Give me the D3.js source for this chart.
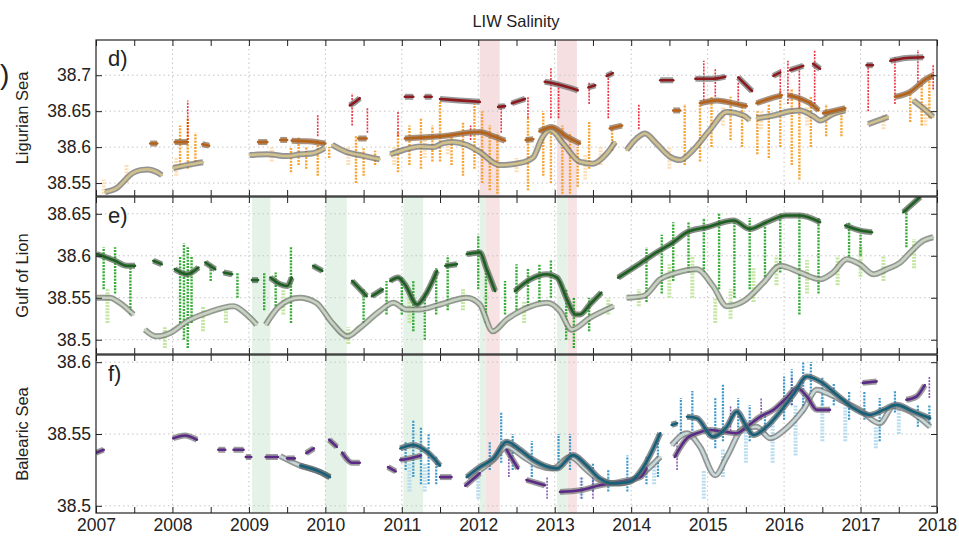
<!DOCTYPE html>
<html>
<head>
<meta charset="utf-8">
<script src="https://cdn.jsdelivr.net/npm/d3@7"></script>
<style>
  body { margin: 0; background: #fff; }
  svg { font-family: "Liberation Sans", Arial, sans-serif; }
</style>
</head>
<body>
<svg id="chart" width="959" height="539"></svg>
<script>
// ---- axis values ----
const yearTicks = [2007, 2008, 2009, 2010, 2011, 2012, 2013, 2014, 2015, 2016, 2017, 2018];
const halfYearTicks = [2007.5, 2008.5, 2009.5, 2010.5, 2011.5, 2012.5, 2013.5, 2014.5, 2015.5, 2016.5, 2017.5];
const ticksLig = [38.55, 38.6, 38.65, 38.7];
const ticksGol = [38.5, 38.55, 38.6, 38.65];
const ticksBal = [38.5, 38.55, 38.6];

// ---- shaded periods [start, end] ----
const pinkLig = [[2012.02, 2012.28], [2013.03, 2013.29]];
const greenBands = [[2009.04, 2009.28], [2010.0, 2010.28], [2011.02, 2011.28], [2012.02, 2012.1], [2013.03, 2013.17]];
const pinkBands = [[2012.1, 2012.28], [2013.17, 2013.29]];

// ---- Ligurian Sea (d) ----
// scatter clusters: [year, low, high]
const ligOrange = [
  [2008.1, 38.57, 38.63], [2008.2, 38.57, 38.64], [2008.3, 38.575, 38.62],
  [2009.55, 38.565, 38.6], [2009.65, 38.575, 38.615], [2009.75, 38.57, 38.6], [2009.9, 38.56, 38.61],
  [2010.05, 38.585, 38.6], [2010.4, 38.55, 38.615], [2010.5, 38.56, 38.6], [2010.65, 38.575, 38.595],
  [2010.95, 38.565, 38.62], [2011.1, 38.575, 38.63], [2011.25, 38.57, 38.64], [2011.4, 38.58, 38.63],
  [2011.5, 38.58, 38.665], [2011.65, 38.575, 38.62], [2011.8, 38.56, 38.635], [2011.95, 38.57, 38.66],
  [2012.05, 38.55, 38.65], [2012.15, 38.54, 38.63], [2012.25, 38.535, 38.62], [2012.65, 38.54, 38.64],
  [2012.85, 38.56, 38.65], [2012.95, 38.55, 38.63], [2013.1, 38.535, 38.63], [2013.2, 38.535, 38.62],
  [2013.3, 38.545, 38.6], [2013.45, 38.57, 38.635], [2013.75, 38.595, 38.625],
  [2014.7, 38.575, 38.66], [2014.9, 38.58, 38.665], [2015.05, 38.6, 38.67], [2015.3, 38.61, 38.67],
  [2015.45, 38.6, 38.66], [2015.65, 38.59, 38.65], [2015.8, 38.585, 38.66], [2015.95, 38.6, 38.68],
  [2016.1, 38.575, 38.68], [2016.2, 38.555, 38.67], [2016.35, 38.6, 38.67], [2016.55, 38.615, 38.66],
  [2016.75, 38.615, 38.65], [2017.65, 38.635, 38.68], [2017.8, 38.63, 38.69], [2017.9, 38.64, 38.7]
];
const ligRedDots = [
  [2008.2, 38.61, 38.665], [2009.9, 38.615, 38.645], [2010.35, 38.63, 38.675], [2010.55, 38.62, 38.655],
  [2010.95, 38.615, 38.65], [2011.9, 38.61, 38.63], [2012.3, 38.62, 38.66], [2012.65, 38.64, 38.67],
  [2012.95, 38.64, 38.71], [2013.05, 38.64, 38.69], [2013.45, 38.66, 38.69], [2013.7, 38.64, 38.7],
  [2014.1, 38.625, 38.66], [2014.95, 38.665, 38.72], [2015.1, 38.67, 38.71], [2015.4, 38.66, 38.69],
  [2015.95, 38.67, 38.71], [2016.05, 38.66, 38.72], [2016.2, 38.655, 38.71], [2016.4, 38.66, 38.735],
  [2017.1, 38.65, 38.715], [2017.45, 38.66, 38.725], [2017.75, 38.69, 38.735], [2017.95, 38.68, 38.715]
];
const ligPale = [
  [2007.1, 38.535, 38.555], [2007.4, 38.55, 38.575], [2008.05, 38.56, 38.585], [2009.3, 38.58, 38.6],
  [2010.3, 38.575, 38.6], [2010.9, 38.575, 38.6], [2011.3, 38.585, 38.61], [2011.6, 38.59, 38.615],
  [2012.5, 38.565, 38.585], [2013.4, 38.555, 38.59], [2013.6, 38.575, 38.6], [2014.5, 38.57, 38.6],
  [2015.2, 38.63, 38.655], [2015.7, 38.625, 38.65], [2016.3, 38.63, 38.655], [2017.3, 38.625, 38.645],
  [2017.85, 38.63, 38.66]
];
// smoothed series: segments of [year, salinity]
const ligRedLine = [
  [[2010.32, 38.658], [2010.38, 38.662], [2010.45, 38.668]],
  [[2011.04, 38.67], [2011.15, 38.67]],
  [[2011.3, 38.67], [2011.39, 38.67]],
  [[2011.5, 38.667], [2011.75, 38.665], [2012.02, 38.663]],
  [[2012.26, 38.656], [2012.35, 38.657]],
  [[2012.44, 38.661], [2012.61, 38.667]],
  [[2012.87, 38.691], [2013.05, 38.687], [2013.3, 38.679]],
  [[2013.44, 38.683], [2013.53, 38.686]],
  [[2013.68, 38.699], [2013.76, 38.703]],
  [[2014.38, 38.693], [2014.55, 38.693]],
  [[2014.84, 38.695], [2015.05, 38.695], [2015.23, 38.698]],
  [[2015.4, 38.697], [2015.58, 38.678]],
  [[2015.86, 38.699], [2015.95, 38.704]],
  [[2016.08, 38.707], [2016.25, 38.713]],
  [[2016.38, 38.716], [2016.47, 38.709]],
  [[2017.08, 38.714], [2017.16, 38.714]],
  [[2017.39, 38.72], [2017.6, 38.724], [2017.82, 38.725]]
];
const ligBrownLine = [
  [[2007.71, 38.605], [2007.8, 38.605]],
  [[2008.03, 38.607], [2008.2, 38.607]],
  [[2008.39, 38.604], [2008.48, 38.602]],
  [[2009.12, 38.607], [2009.24, 38.607]],
  [[2009.41, 38.61], [2009.5, 38.61]],
  [[2009.56, 38.609], [2009.78, 38.608], [2010.0, 38.605]],
  [[2010.43, 38.612], [2010.54, 38.612]],
  [[2011.04, 38.612], [2011.5, 38.615], [2012.02, 38.621], [2012.2, 38.615], [2012.35, 38.609]],
  [[2012.62, 38.61], [2012.72, 38.611]],
  [[2012.8, 38.622], [2012.96, 38.628], [2013.15, 38.615], [2013.33, 38.605]],
  [[2013.72, 38.626], [2013.88, 38.63]],
  [[2014.55, 38.651], [2014.64, 38.651]],
  [[2014.9, 38.661], [2015.12, 38.665], [2015.33, 38.661], [2015.51, 38.657]],
  [[2015.64, 38.661], [2015.82, 38.6675], [2015.97, 38.672]],
  [[2016.06, 38.672], [2016.21, 38.6675], [2016.38, 38.658], [2016.45, 38.651]],
  [[2016.51, 38.647], [2016.8, 38.654]],
  [[2017.45, 38.67], [2017.65, 38.677], [2017.86, 38.695], [2017.95, 38.7]]
];
const ligGrayLine = [
  [[2007.12, 38.5375], [2007.27, 38.543], [2007.48, 38.564], [2007.58, 38.568], [2007.68, 38.569], [2007.8, 38.565], [2007.86, 38.561]],
  [[2008.01, 38.571], [2008.19, 38.575], [2008.4, 38.579]],
  [[2009.01, 38.589], [2009.24, 38.59], [2009.5, 38.5875], [2009.67, 38.59], [2009.84, 38.5915], [2009.99, 38.5985]],
  [[2010.09, 38.603], [2010.28, 38.593], [2010.45, 38.589], [2010.62, 38.585], [2010.71, 38.583]],
  [[2010.85, 38.59], [2011.02, 38.596], [2011.24, 38.601], [2011.41, 38.6], [2011.54, 38.6055], [2011.67, 38.607],
   [2011.85, 38.603], [2012.02, 38.593], [2012.28, 38.575], [2012.55, 38.578], [2012.72, 38.586], [2012.83, 38.612],
   [2012.94, 38.624], [2013.11, 38.605], [2013.33, 38.5796], [2013.5, 38.577], [2013.68, 38.591], [2013.79, 38.607]],
  [[2013.94, 38.596], [2014.07, 38.612], [2014.18, 38.619], [2014.33, 38.605], [2014.51, 38.5865], [2014.64, 38.582],
   [2014.81, 38.596], [2015.03, 38.624], [2015.25, 38.649], [2015.47, 38.644], [2015.55, 38.6375]],
  [[2015.64, 38.64], [2015.86, 38.644], [2016.08, 38.65], [2016.21, 38.651], [2016.38, 38.643], [2016.47, 38.637],
   [2016.64, 38.646], [2016.8, 38.651]],
  [[2017.1, 38.632], [2017.36, 38.642]],
  [[2017.69, 38.665], [2017.82, 38.654], [2017.95, 38.642]]
];

// ---- Gulf of Lion (e) ----
const golGreen = [
  [2007.1, 38.56, 38.61], [2007.25, 38.555, 38.61], [2007.45, 38.53, 38.585], [2008.1, 38.52, 38.6],
  [2008.15, 38.5, 38.615], [2008.2, 38.49, 38.61], [2008.25, 38.52, 38.6], [2008.5, 38.57, 38.59],
  [2008.85, 38.55, 38.58], [2009.2, 38.535, 38.58], [2009.35, 38.54, 38.58], [2009.55, 38.52, 38.61],
  [2010.5, 38.52, 38.56], [2010.8, 38.53, 38.57], [2011.0, 38.53, 38.575], [2011.15, 38.51, 38.57],
  [2011.3, 38.5, 38.555], [2011.45, 38.53, 38.585], [2011.6, 38.535, 38.6], [2012.0, 38.56, 38.625],
  [2012.1, 38.52, 38.585], [2012.35, 38.53, 38.57], [2012.5, 38.535, 38.59], [2012.65, 38.54, 38.585],
  [2012.8, 38.545, 38.59], [2012.95, 38.55, 38.595], [2013.15, 38.5, 38.56], [2013.25, 38.49, 38.55],
  [2013.45, 38.51, 38.55], [2014.2, 38.545, 38.61], [2014.4, 38.555, 38.625], [2014.55, 38.57, 38.64],
  [2014.75, 38.58, 38.64], [2014.95, 38.58, 38.645], [2015.15, 38.56, 38.65], [2015.35, 38.55, 38.64],
  [2015.55, 38.56, 38.645], [2015.75, 38.575, 38.635], [2015.95, 38.58, 38.65], [2016.2, 38.53, 38.65],
  [2016.45, 38.555, 38.645], [2016.85, 38.595, 38.64], [2017.0, 38.6, 38.625], [2017.6, 38.61, 38.655]
];
const golLightGreen = [
  [2007.15, 38.52, 38.56], [2007.9, 38.49, 38.515], [2008.4, 38.51, 38.54], [2008.7, 38.52, 38.54],
  [2009.45, 38.53, 38.56], [2010.3, 38.495, 38.515], [2011.1, 38.52, 38.55], [2011.8, 38.535, 38.56],
  [2012.6, 38.52, 38.545], [2013.7, 38.53, 38.55], [2014.1, 38.54, 38.56], [2014.5, 38.55, 38.59],
  [2014.8, 38.55, 38.6], [2015.1, 38.52, 38.55], [2015.3, 38.525, 38.56], [2015.6, 38.545, 38.585],
  [2015.9, 38.565, 38.6], [2016.3, 38.555, 38.595], [2016.7, 38.565, 38.6], [2017.0, 38.575, 38.61],
  [2017.3, 38.57, 38.6], [2017.7, 38.585, 38.62]
];
const golUpperLine = [
  [[2007.01, 38.602], [2007.14, 38.598], [2007.25, 38.594], [2007.4, 38.588], [2007.51, 38.588]],
  [[2007.75, 38.594], [2007.86, 38.59]],
  [[2008.03, 38.584], [2008.19, 38.578], [2008.34, 38.586]],
  [[2008.43, 38.592], [2008.56, 38.584]],
  [[2008.67, 38.58], [2008.78, 38.578]],
  [[2009.04, 38.571], [2009.12, 38.571]],
  [[2009.28, 38.574], [2009.41, 38.566], [2009.5, 38.564], [2009.56, 38.574]],
  [[2009.84, 38.588], [2009.96, 38.582]],
  [[2010.35, 38.57], [2010.54, 38.552]],
  [[2010.61, 38.552], [2010.75, 38.56]],
  [[2010.85, 38.57], [2010.95, 38.574], [2011.04, 38.566], [2011.2, 38.542], [2011.3, 38.552], [2011.46, 38.582]],
  [[2011.57, 38.588], [2011.72, 38.59]],
  [[2011.85, 38.602], [2012.02, 38.604], [2012.11, 38.584], [2012.22, 38.558]],
  [[2012.48, 38.558], [2012.68, 38.572], [2012.9, 38.578], [2013.03, 38.574], [2013.16, 38.548], [2013.27, 38.53],
   [2013.33, 38.53], [2013.46, 38.542], [2013.61, 38.556]],
  [[2013.83, 38.574], [2014.07, 38.588], [2014.33, 38.604], [2014.55, 38.616], [2014.73, 38.628], [2014.99, 38.634],
   [2015.34, 38.642], [2015.55, 38.632], [2015.77, 38.64], [2016.03, 38.648], [2016.21, 38.648], [2016.47, 38.64]],
  [[2016.8, 38.636], [2017.0, 38.63], [2017.15, 38.628]],
  [[2017.56, 38.652], [2017.78, 38.67]]
];
const golLowerLine = [
  [[2007.01, 38.55], [2007.18, 38.55], [2007.31, 38.544], [2007.49, 38.53]],
  [[2007.64, 38.512], [2007.79, 38.504], [2007.97, 38.508], [2008.19, 38.522], [2008.45, 38.532], [2008.8, 38.54],
   [2008.97, 38.53], [2009.1, 38.518]],
  [[2009.22, 38.518], [2009.4, 38.54], [2009.66, 38.55], [2009.88, 38.544], [2010.09, 38.52], [2010.29, 38.504],
   [2010.45, 38.514], [2010.71, 38.534], [2010.89, 38.544], [2011.06, 38.536], [2011.23, 38.536], [2011.5, 38.542],
   [2011.85, 38.55], [2012.02, 38.542], [2012.19, 38.51], [2012.37, 38.524], [2012.59, 38.536], [2012.9, 38.544],
   [2013.07, 38.534], [2013.22, 38.512], [2013.46, 38.526], [2013.77, 38.54]],
  [[2013.94, 38.55], [2014.16, 38.552], [2014.38, 38.572], [2014.6, 38.58], [2014.86, 38.584], [2015.07, 38.564],
   [2015.25, 38.54], [2015.47, 38.546], [2015.73, 38.568], [2015.95, 38.588], [2016.21, 38.58], [2016.47, 38.572],
   [2016.64, 38.58], [2016.82, 38.596], [2016.99, 38.59], [2017.17, 38.578], [2017.34, 38.584], [2017.52, 38.592],
   [2017.65, 38.604], [2017.82, 38.618], [2017.95, 38.622]]
];

// ---- Balearic Sea (f) ----
const balBlue = [
  [2011.05, 38.525, 38.545], [2011.15, 38.52, 38.56], [2011.25, 38.515, 38.555], [2011.35, 38.515, 38.55],
  [2011.45, 38.515, 38.535], [2012.15, 38.525, 38.545], [2012.3, 38.53, 38.565], [2012.45, 38.525, 38.55],
  [2012.7, 38.52, 38.545], [2013.05, 38.525, 38.55], [2013.2, 38.525, 38.55], [2013.5, 38.51, 38.53],
  [2013.7, 38.51, 38.525], [2013.95, 38.51, 38.535], [2014.2, 38.515, 38.535], [2014.35, 38.52, 38.55],
  [2014.65, 38.55, 38.575], [2014.8, 38.55, 38.58], [2015.1, 38.54, 38.575], [2015.2, 38.545, 38.585],
  [2015.4, 38.55, 38.575], [2015.55, 38.545, 38.57], [2015.75, 38.55, 38.565], [2016.0, 38.56, 38.59],
  [2016.1, 38.57, 38.595], [2016.25, 38.565, 38.6], [2016.35, 38.575, 38.6], [2016.5, 38.57, 38.59],
  [2016.65, 38.57, 38.585], [2016.85, 38.56, 38.58], [2017.05, 38.56, 38.58], [2017.25, 38.545, 38.575],
  [2017.45, 38.565, 38.58], [2017.75, 38.555, 38.57], [2017.9, 38.555, 38.57]
];
const balLightBlue = [
  [2011.1, 38.51, 38.53], [2011.3, 38.51, 38.53], [2012.0, 38.505, 38.52], [2013.35, 38.505, 38.52],
  [2014.3, 38.515, 38.53], [2014.95, 38.505, 38.525], [2015.2, 38.52, 38.54], [2015.5, 38.53, 38.56],
  [2015.85, 38.53, 38.56], [2016.15, 38.535, 38.57], [2016.5, 38.545, 38.575], [2016.8, 38.545, 38.57],
  [2017.2, 38.54, 38.555], [2017.5, 38.55, 38.57]
];
const balPurpleDots = [
  [2012.4, 38.52, 38.54], [2012.9, 38.505, 38.52], [2013.35, 38.505, 38.52], [2013.5, 38.505, 38.52],
  [2014.6, 38.525, 38.545], [2015.3, 38.55, 38.57], [2015.7, 38.56, 38.575], [2016.1, 38.57, 38.59],
  [2017.9, 38.575, 38.59]
];
const balTealLine = [
  [[2009.67, 38.528], [2009.93, 38.5236], [2010.06, 38.52]],
  [[2010.98, 38.54], [2011.15, 38.5423], [2011.33, 38.5376], [2011.5, 38.528]],
  [[2011.85, 38.52], [2012.02, 38.527], [2012.2, 38.533], [2012.37, 38.5446], [2012.55, 38.539], [2012.72, 38.532],
   [2013.03, 38.526], [2013.24, 38.5353], [2013.42, 38.528], [2013.59, 38.519], [2013.77, 38.5155], [2013.98, 38.5167],
   [2014.16, 38.527], [2014.38, 38.5505]],
  [[2014.53, 38.5563], [2014.6, 38.5575]],
  [[2014.73, 38.562], [2014.86, 38.561], [2015.07, 38.548], [2015.25, 38.555], [2015.38, 38.5656], [2015.51, 38.555],
   [2015.6, 38.5493], [2015.77, 38.555], [2015.95, 38.5656], [2016.12, 38.5773], [2016.3, 38.59], [2016.47, 38.5866],
   [2016.69, 38.5773], [2016.91, 38.568], [2017.12, 38.5633], [2017.3, 38.5668], [2017.47, 38.5703], [2017.69, 38.5656],
   [2017.91, 38.561]]
];
const balPurpleLine = [
  [[2007.0, 38.537], [2007.1, 38.539]],
  [[2008.01, 38.547], [2008.16, 38.549], [2008.32, 38.546]],
  [[2008.6, 38.539], [2008.69, 38.539]],
  [[2008.8, 38.539], [2008.93, 38.539]],
  [[2008.96, 38.534], [2009.03, 38.534]],
  [[2009.22, 38.534], [2009.38, 38.534]],
  [[2009.5, 38.533], [2009.6, 38.533]],
  [[2009.75, 38.5367], [2009.85, 38.54]],
  [[2010.05, 38.546], [2010.15, 38.541]],
  [[2010.22, 38.537], [2010.35, 38.53], [2010.45, 38.53]],
  [[2010.82, 38.527], [2010.92, 38.524]],
  [[2010.98, 38.532], [2011.1, 38.533], [2011.25, 38.535]],
  [[2011.5, 38.52], [2011.65, 38.52]],
  [[2011.83, 38.514], [2012.02, 38.5227]],
  [[2012.37, 38.539], [2012.52, 38.526]],
  [[2012.63, 38.518], [2012.87, 38.5143]],
  [[2013.07, 38.5097], [2013.33, 38.5108], [2013.59, 38.5143], [2013.85, 38.5167], [2014.12, 38.52], [2014.2, 38.526]],
  [[2014.57, 38.5341], [2014.73, 38.547], [2014.86, 38.5505], [2015.03, 38.5528], [2015.21, 38.5516], [2015.38, 38.5505],
   [2015.51, 38.555], [2015.69, 38.5621], [2015.86, 38.5668], [2016.03, 38.575], [2016.17, 38.582], [2016.3, 38.576],
   [2016.43, 38.5668], [2016.6, 38.5668]],
  [[2017.03, 38.5856], [2017.21, 38.5866]],
  [[2017.6, 38.5738], [2017.73, 38.576], [2017.84, 38.584]]
];
const balGrayLine = [
  [[2009.41, 38.5346], [2009.67, 38.528], [2009.93, 38.5236], [2010.06, 38.52]],
  [[2012.02, 38.5248], [2012.2, 38.532], [2012.37, 38.5411], [2012.59, 38.5341], [2012.77, 38.5283], [2012.98, 38.526],
   [2013.2, 38.5341], [2013.42, 38.5248], [2013.59, 38.5178], [2013.85, 38.5155], [2014.12, 38.5213], [2014.38, 38.5341]],
  [[2014.53, 38.5423], [2014.73, 38.5505], [2014.9, 38.5411], [2015.1, 38.5213], [2015.25, 38.5341], [2015.47, 38.554],
   [2015.64, 38.555], [2015.82, 38.547], [2016.03, 38.554], [2016.25, 38.5668], [2016.43, 38.5808], [2016.56, 38.5785],
   [2016.78, 38.5726], [2016.99, 38.5668], [2017.25, 38.5575], [2017.43, 38.5691], [2017.65, 38.5656], [2017.91, 38.555]]
];

// ---- layout ----
const svg = d3.select('#chart');
const x = d3.scaleLinear().domain([2007, 2018]).range([96, 937]);

const panels = [
  { name: 'Ligurian Sea', tag: 'd)', top: 40, bottom: 196, domain: [38.532, 38.749], ticks: ticksLig,
    bands: [{ list: pinkLig, color: '#f6dfe1' }],
    spikes: [
      { data: ligPale, color: '#fddcb0', w: 4 },
      { data: ligOrange, color: '#f99a1c', w: 2.4 },
      { data: ligRedDots, color: '#ec1c2e', w: 1.6 }
    ],
    lines: [
      { data: ligGrayLine, halo: '#6f6f6f', core: '#cfc08c' },
      { data: ligBrownLine, halo: '#8b6f55', core: '#b5621b' },
      { data: ligRedLine, halo: '#777', core: '#8c1a1f' }
    ] },
  { name: 'Gulf of Lion', tag: 'e)', top: 197, bottom: 354, domain: [38.483, 38.670], ticks: ticksGol,
    bands: [{ list: greenBands, color: '#e5f2e8' }, { list: pinkBands, color: '#f7e2e4' }],
    spikes: [
      { data: golLightGreen, color: '#bfe497', w: 4 },
      { data: golGreen, color: '#1fa31f', w: 2.4 }
    ],
    lines: [
      { data: golLowerLine, halo: '#6e776b', core: '#c9d2c2' },
      { data: golUpperLine, halo: '#5d6b5d', core: '#1e5f22' }
    ] },
  { name: 'Balearic Sea', tag: 'f)', top: 355, bottom: 513, domain: [38.495, 38.605], ticks: ticksBal,
    bands: [{ list: greenBands, color: '#e5f2e8' }, { list: pinkBands, color: '#f7e2e4' }],
    spikes: [
      { data: balLightBlue, color: '#b2daee', w: 4 },
      { data: balBlue, color: '#2a8fc6', w: 2.2 },
      { data: balPurpleDots, color: '#7a4aa8', w: 1.6 }
    ],
    lines: [
      { data: balGrayLine, halo: '#707070', core: '#c6d8d8' },
      { data: balPurpleLine, halo: '#7b7b7b', core: '#5b2a86' },
      { data: balTealLine, halo: '#5f6a6e', core: '#16607a' }
    ] }
];

panels.forEach((p, i) => {
  const y = d3.scaleLinear().domain(p.domain).range([p.bottom, p.top]);
  const clipId = 'clip' + i;
  svg.append('clipPath').attr('id', clipId)
    .append('rect').attr('x', x(2007)).attr('y', p.top)
    .attr('width', x(2018) - x(2007)).attr('height', p.bottom - p.top);

  const g = svg.append('g').attr('clip-path', `url(#${clipId})`);

  // shaded periods
  p.bands.forEach(b => {
    g.selectAll(null).data(b.list).join('rect')
      .attr('x', d => x(d[0])).attr('width', d => x(d[1]) - x(d[0]))
      .attr('y', p.top).attr('height', p.bottom - p.top)
      .attr('fill', b.color);
  });

  // dotted grid
  g.selectAll(null).data(yearTicks.slice(1, -1)).join('line')
    .attr('x1', d => x(d)).attr('x2', d => x(d))
    .attr('y1', p.top).attr('y2', p.bottom)
    .attr('stroke', '#c4c4c4').attr('stroke-dasharray', '1.5 3');
  g.selectAll(null).data(p.ticks).join('line')
    .attr('x1', x(2007)).attr('x2', x(2018))
    .attr('y1', d => y(d)).attr('y2', d => y(d))
    .attr('stroke', '#c4c4c4').attr('stroke-dasharray', '1.5 3');

  // scattered profiles
  p.spikes.forEach(s => {
    g.selectAll(null).data(s.data).join('line')
      .attr('x1', d => x(d[0])).attr('x2', d => x(d[0]))
      .attr('y1', d => y(d[1])).attr('y2', d => y(d[2]))
      .attr('stroke', s.color).attr('stroke-width', s.w)
      .attr('stroke-dasharray', '2 1.2').attr('opacity', 0.9);
  });

  // smoothed series: grey envelope + coloured core
  const line = d3.line().x(d => x(d[0])).y(d => y(d[1])).curve(d3.curveMonotoneX);
  p.lines.forEach(l => {
    g.selectAll(null).data(l.data).join('path')
      .attr('d', line).attr('fill', 'none')
      .attr('stroke', l.halo).attr('stroke-width', 6).attr('opacity', 0.75);
    g.selectAll(null).data(l.data).join('path')
      .attr('d', line).attr('fill', 'none')
      .attr('stroke', l.core).attr('stroke-width', 2.6).attr('stroke-linecap', 'round');
  });

  // frame and ticks
  const axL = svg.append('g').attr('transform', `translate(${x(2007)},0)`)
    .call(d3.axisLeft(y).tickValues(p.ticks).tickSize(-6).tickPadding(5).tickFormat(d => String(d)));
  axL.select('.domain').remove();
  axL.selectAll('text').attr('font-size', 17.5).attr('font-family', null).attr('fill', '#222');

  const axR = svg.append('g').attr('transform', `translate(${x(2018)},0)`)
    .call(d3.axisRight(y).tickValues(p.ticks).tickSize(-6).tickFormat(''));
  axR.select('.domain').remove();

  [p.top, p.bottom].forEach((yy, k) => {
    const axisFn = k === 0 ? d3.axisTop : d3.axisBottom;
    const ax = svg.append('g').attr('transform', `translate(0,${yy})`)
      .call(axisFn(x).tickValues(yearTicks.concat(halfYearTicks)).tickSize(-6).tickFormat(''));
    ax.select('.domain').remove();
  });

  svg.append('rect')
    .attr('x', x(2007)).attr('y', p.top)
    .attr('width', x(2018) - x(2007)).attr('height', p.bottom - p.top)
    .attr('fill', 'none').attr('stroke', '#222').attr('stroke-width', 1.2);

  svg.append('text')
    .attr('transform', `translate(28,${(p.top + p.bottom) / 2}) rotate(-90)`)
    .attr('text-anchor', 'middle').attr('font-size', 16.5).attr('fill', '#222')
    .text(p.name);

  svg.append('text')
    .attr('x', 108).attr('y', p.top + 26)
    .attr('font-size', 22).attr('fill', '#222')
    .text(p.tag);

  if (i === panels.length - 1) {
    const axB = svg.append('g').attr('transform', `translate(0,${p.bottom})`)
      .call(d3.axisBottom(x).tickValues(yearTicks).tickSize(0).tickPadding(6).tickFormat(d3.format('d')));
    axB.select('.domain').remove();
    axB.selectAll('text').attr('font-size', 17.5).attr('font-family', null).attr('fill', '#222');
  }
});

svg.selectAll('.tick line').attr('stroke', '#222');

svg.append('text')
  .attr('x', 516).attr('y', 27)
  .attr('text-anchor', 'middle').attr('font-size', 16.5).attr('fill', '#222')
  .text('LIW Salinity');

// edge of the neighbouring panel label
svg.append('text')
  .attr('x', 0).attr('y', 84)
  .attr('font-size', 28).attr('fill', '#222')
  .text(')');
</script>
</body>
</html>
